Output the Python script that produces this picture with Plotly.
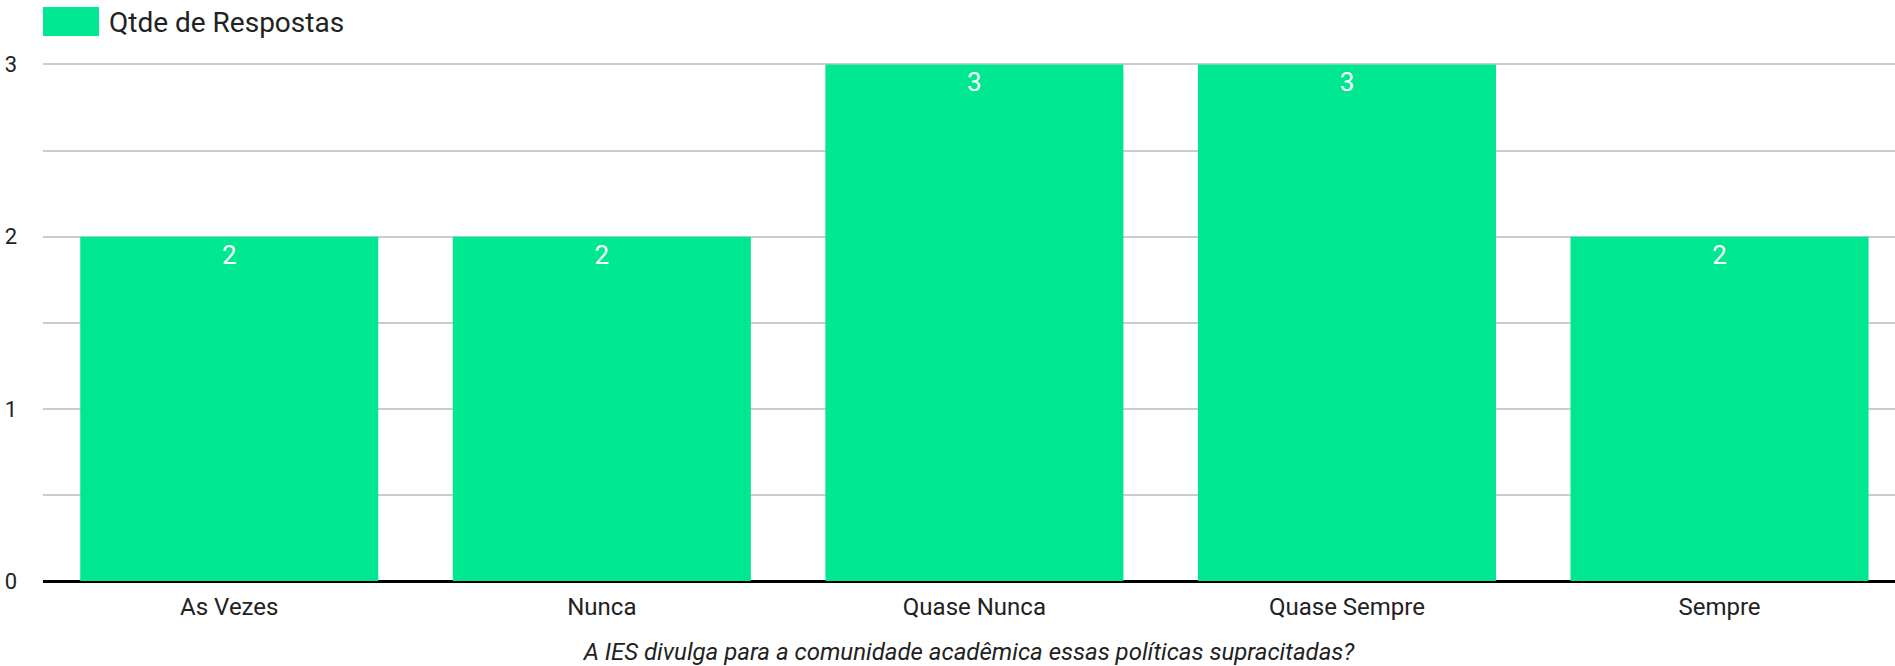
import plotly.graph_objects as go

categorias = ["As Vezes", "Nunca", "Quase Nunca", "Quase Sempre", "Sempre"]
respostas = [2, 2, 3, 3, 2]
serie = "Qtde de Respostas"
titulo_x = "A IES divulga para a comunidade acadêmica essas políticas supracitadas?"
y_ticks = [0, 1, 2, 3]

verde = "#00e791"
W, Ht = 1895, 666
L, T, H = 43, 61, 520   # área do gráfico (px)

fig = go.Figure()
fig.add_trace(go.Bar(
    x=categorias, y=respostas, name=serie,
    marker=dict(color=verde, line=dict(width=0)),
    text=respostas, textposition="inside", insidetextanchor="end",
    textfont=dict(color="white", size=26, family="Roboto"),
    width=0.8, showlegend=False,
))

# legenda desenhada à mão (quadrado grande como no original)
fig.add_shape(type="rect", xref="paper", yref="paper",
              x0=0, x1=56/1852, y0=1.0 + (T - 36)/H, y1=1.0 + (T - 7)/H,
              fillcolor=verde, line=dict(width=0))
fig.add_annotation(text=serie, xref="paper", yref="paper",
                   x=64/1852, y=1.0 + (T - 22)/H, xanchor="left", yanchor="middle",
                   showarrow=False, font=dict(size=28, color="#222222", family="Roboto"))

fig.update_layout(
    width=W, height=Ht,
    margin=dict(l=L, r=0, t=T, b=Ht - T - H),
    plot_bgcolor="white", paper_bgcolor="white",
    font=dict(family="Roboto", size=24, color="#222222"),
)
fig.update_xaxes(
    range=[-0.5, 4.471], automargin=False,
    showline=False, showgrid=False, zeroline=False,
    tickfont=dict(size=24), ticklabelstandoff=9,
    title=dict(text="<i>" + titulo_x + "</i>", font=dict(size=24, family="Roboto"), standoff=24),
)
fig.update_yaxes(
    range=[0, 3.02], tickvals=y_ticks, automargin=False,
    showgrid=True, gridcolor="#cccccc", gridwidth=2,
    minor=dict(dtick=0.5, showgrid=True, gridcolor="#cccccc", gridwidth=2),
    zeroline=True, zerolinecolor="#000000", zerolinewidth=3,
    tickfont=dict(size=22), ticklabelstandoff=25,
)

# tira a margem padrão de 8px do body para a figura ocupar a janela toda
fig.write_html("out.html", config={"displayModeBar": False},
               post_script="document.body.style.margin='0';")
